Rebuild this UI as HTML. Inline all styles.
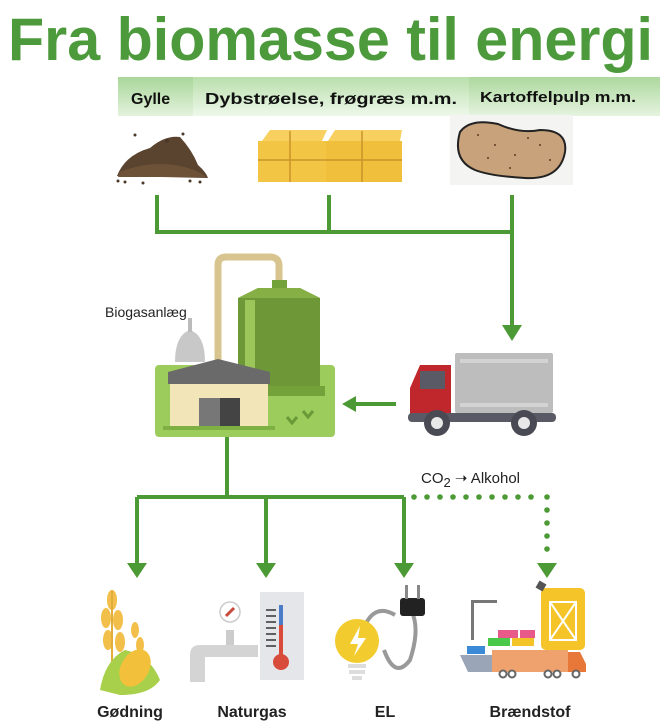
<!DOCTYPE html>
<html><head><meta charset="utf-8"><style>
html,body{margin:0;padding:0;background:#fff;}
svg{display:block;}
text{font-family:"Liberation Sans",sans-serif;}
</style></head><body>
<svg width="662" height="728" viewBox="0 0 662 728" xmlns="http://www.w3.org/2000/svg">
<defs>
<linearGradient id="bar" x1="0" y1="0" x2="0" y2="1"><stop offset="0" stop-color="#a9d69a"/><stop offset="1" stop-color="#e3f2dc"/></linearGradient>
<linearGradient id="bar2" x1="0" y1="0" x2="0" y2="1"><stop offset="0" stop-color="#b9dfac"/><stop offset="1" stop-color="#eef8ea"/></linearGradient>
</defs>
<text x="8" y="60" font-size="60" font-weight="bold" fill="#4c9a3c" textLength="645" lengthAdjust="spacingAndGlyphs">Fra biomasse til energi</text>
<rect x="118" y="77" width="542" height="39" fill="url(#bar2)"/>
<rect x="118" y="77" width="75" height="39" fill="url(#bar)"/>
<rect x="469" y="77" width="191" height="39" fill="url(#bar)" opacity="0.8"/>
<text x="131" y="104" font-size="16" font-weight="bold" fill="#111">Gylle</text>
<text x="205" y="104" font-size="16" font-weight="bold" fill="#111" textLength="252" lengthAdjust="spacingAndGlyphs">Dybstrøelse, frøgræs m.m.</text>
<text x="480" y="102" font-size="15" font-weight="bold" fill="#111" textLength="156" lengthAdjust="spacingAndGlyphs">Kartoffelpulp m.m.</text>
<!-- dirt -->
<path d="M117 176 Q125 155 150 148 Q165 135 180 137 Q192 150 198 165 Q206 172 208 178 Z" fill="#5a4430"/>
<path d="M120 172 Q150 160 180 166 Q198 170 206 177 L118 177 Z" fill="#6e5238"/>
<g fill="#4a3828"><circle cx="118" cy="181" r="1.5"/><circle cx="125" cy="182" r="1.5"/><circle cx="143" cy="183" r="1.5"/><circle cx="190" cy="181" r="1.5"/><circle cx="200" cy="182" r="1.5"/><circle cx="135" cy="135" r="1.5"/><circle cx="183" cy="134" r="1.5"/><circle cx="167" cy="141" r="2"/></g>
<!-- hay -->
<rect x="258" y="141" width="68" height="41" fill="#f3c544"/>
<rect x="326" y="141" width="76" height="41" fill="#f0bf3c"/>
<path d="M262 141 L270 130 H327 L322 141 Z M328 141 L335 130 H402 L400 141 Z" fill="#f7d060"/>
<line x1="258" y1="160" x2="402" y2="160" stroke="#c9932a" stroke-width="1.5"/>
<line x1="290" y1="131" x2="290" y2="182" stroke="#c9932a" stroke-width="1.5"/>
<line x1="362" y1="131" x2="362" y2="182" stroke="#c9932a" stroke-width="1.5"/>
<!-- potato -->
<rect x="450" y="115" width="123" height="70" fill="#f4f4f2"/>
<path d="M460 132 Q470 118 498 124 Q520 134 540 130 Q568 130 565 152 Q560 180 525 178 Q490 176 475 170 Q452 160 460 132 Z" fill="#c8a27a" stroke="#222" stroke-width="2"/>
<g fill="#5a3e22"><circle cx="478" cy="135" r="1"/><circle cx="495" cy="145" r="1"/><circle cx="515" cy="155" r="1"/><circle cx="540" cy="145" r="1"/><circle cx="510" cy="168" r="1"/><circle cx="488" cy="158" r="1"/><circle cx="550" cy="160" r="1"/><circle cx="528" cy="138" r="1"/></g>
<!-- connectors -->
<g stroke="#4c9a35" stroke-width="4" fill="none">
<path d="M157 195 V232 H512 M329 195 V232 M512 195 V326"/>
<path d="M396 404 H355"/>
<path d="M227 437 V497 M137 497 H404 M137 497 V565 M266 497 V565 M404 497 V565"/>
</g>
<g fill="#4c9a35">
<polygon points="502,325 522,325 512,341"/>
<polygon points="356,396 356,412 342,404"/>
<polygon points="127,563 147,563 137,578"/>
<polygon points="256,563 276,563 266,578"/>
<polygon points="394,563 414,563 404,578"/>
<polygon points="537,563 557,563 547,578"/>
<circle cx="414" cy="497" r="2.8"/><circle cx="427" cy="497" r="2.8"/><circle cx="440" cy="497" r="2.8"/><circle cx="453" cy="497" r="2.8"/><circle cx="466" cy="497" r="2.8"/><circle cx="479" cy="497" r="2.8"/><circle cx="492" cy="497" r="2.8"/><circle cx="505" cy="497" r="2.8"/><circle cx="518" cy="497" r="2.8"/><circle cx="531" cy="497" r="2.8"/><circle cx="547" cy="497" r="2.8"/>
<circle cx="547" cy="510" r="2.8"/><circle cx="547" cy="523" r="2.8"/><circle cx="547" cy="536" r="2.8"/><circle cx="547" cy="549" r="2.8"/>
</g>
<!-- biogas plant -->
<text x="105" y="317" font-size="14" fill="#222">Biogasanlæg</text>
<rect x="155" y="365" width="180" height="72" rx="4" fill="#9ccc5c"/>
<path d="M218 362 V265 Q218 257 226 257 H270 Q279 257 279 266 V285" fill="none" stroke="#d8c48e" stroke-width="7"/>
<rect x="272" y="280" width="15" height="10" fill="#74a23a"/>
<path d="M238 298 L258 288 H300 L320 298 V388 H238 Z" fill="#6e9838"/>
<path d="M238 298 L258 288 H300 L320 298 Z" fill="#86b045"/>
<rect x="245" y="300" width="10" height="88" fill="#9cc65a"/>
<rect x="235" y="386" width="90" height="10" fill="#74a23a"/>
<path d="M175 362 Q175 335 190 330 Q205 335 205 362 Z" fill="#c8c8c8"/>
<rect x="188" y="318" width="4" height="14" fill="#bbb"/>
<path d="M168 372 L218 359 L270 372 V384 H168 Z" fill="#6a6a6a"/>
<rect x="170" y="384" width="98" height="43" fill="#f2e6b8"/>
<rect x="199" y="398" width="21" height="29" fill="#777"/><rect x="220" y="398" width="20" height="29" fill="#444"/>
<rect x="163" y="426" width="112" height="4" fill="#7fb044"/>
<path d="M287 417 l5 6 l5 -6 M303 411 l5 6 l5 -6" stroke="#6a9a38" stroke-width="3" fill="none"/>
<!-- truck -->
<rect x="455" y="353" width="98" height="60" rx="2" fill="#bdbdbd"/>
<rect x="460" y="359" width="88" height="4" fill="#d3d3d3"/><rect x="460" y="403" width="88" height="4" fill="#d3d3d3"/>
<path d="M420 365 H451 V418 H410 V388 Z" fill="#c0272d"/>
<rect x="420" y="371" width="25" height="18" fill="#5a5a66"/>
<rect x="408" y="413" width="148" height="9" rx="4" fill="#5a5a66"/>
<circle cx="437" cy="423" r="13" fill="#4a4a55"/><circle cx="437" cy="423" r="6" fill="#e8e8e8"/>
<circle cx="524" cy="423" r="13" fill="#4a4a55"/><circle cx="524" cy="423" r="6" fill="#e8e8e8"/>
<text x="421" y="483" font-size="15" fill="#222">CO<tspan font-size="13" dy="4">2</tspan><tspan dy="-4"> ➝ Alkohol</tspan></text>
<!-- wheat -->
<g fill="#f2c04a">
<ellipse cx="112" cy="600" rx="5" ry="10"/><ellipse cx="106" cy="618" rx="5" ry="10"/><ellipse cx="118" cy="620" rx="5" ry="10"/><ellipse cx="108" cy="640" rx="5" ry="10"/><ellipse cx="120" cy="642" rx="5" ry="10"/>
<ellipse cx="135" cy="630" rx="4" ry="8"/><ellipse cx="140" cy="645" rx="4" ry="8"/>
</g>
<path d="M112 590 V690" stroke="#e2ad3a" stroke-width="2"/>
<path d="M100 690 Q105 660 125 650 Q150 655 160 680 Q150 695 120 695 Z" fill="#a8d04a"/>
<ellipse cx="135" cy="668" rx="14" ry="20" transform="rotate(30 135 668)" fill="#f2c03a"/>
<!-- naturgas -->
<rect x="260" y="592" width="44" height="88" fill="#e4e6ea"/>
<rect x="279" y="605" width="4" height="52" fill="#4a7cc8"/><circle cx="281" cy="662" r="8" fill="#d84a3a"/><rect x="279" y="625" width="4" height="35" fill="#d84a3a"/>
<g stroke="#333" stroke-width="1.5"><line x1="266" y1="610" x2="276" y2="610"/><line x1="266" y1="616" x2="276" y2="616"/><line x1="266" y1="622" x2="276" y2="622"/><line x1="266" y1="628" x2="276" y2="628"/><line x1="266" y1="634" x2="276" y2="634"/><line x1="266" y1="640" x2="276" y2="640"/><line x1="266" y1="646" x2="276" y2="646"/></g>
<circle cx="230" cy="612" r="10" fill="none" stroke="#ccc" stroke-width="1.5"/><path d="M226 616 L234 608" stroke="#c84a3a" stroke-width="3"/>
<path d="M190 682 V655 Q190 645 200 645 H258 V657 H205 V682 Z" fill="#d4d4d4"/>
<rect x="226" y="630" width="8" height="15" fill="#ccc"/>
<!-- EL -->
<path d="M384 650 Q395 680 410 660 Q420 630 412 612" stroke="#999" stroke-width="4" fill="none"/>
<path d="M360 640 Q370 600 395 615" stroke="#999" stroke-width="4" fill="none"/>
<rect x="400" y="598" width="25" height="18" rx="3" fill="#222"/><rect x="405" y="585" width="3" height="14" fill="#888"/><rect x="417" y="585" width="3" height="14" fill="#888"/>
<circle cx="357" cy="641" r="22" fill="#f2cc2e"/><path d="M360 626 L350 644 H358 L354 656 L366 638 H358 Z" fill="#fff"/>
<rect x="348" y="664" width="18" height="4" fill="#ddd"/><rect x="349" y="670" width="16" height="4" fill="#ddd"/><rect x="352" y="676" width="10" height="4" fill="#ddd"/>
<!-- Brændstof -->
<rect x="541" y="588" width="44" height="62" rx="5" fill="#f4c428"/>
<path d="M550 602 H576 V640 H550 Z M550 602 L576 640 M576 602 L550 640" stroke="#fff" stroke-width="2" fill="none"/>
<rect x="537" y="582" width="8" height="8" fill="#555" transform="rotate(30 541 586)"/>
<rect x="471" y="600" width="3" height="40" fill="#777"/><rect x="471" y="600" width="26" height="3" fill="#777"/>
<rect x="498" y="630" width="20" height="8" fill="#e85a8a"/><rect x="520" y="630" width="15" height="8" fill="#e85a8a"/>
<rect x="488" y="638" width="22" height="8" fill="#4ac84a"/><rect x="512" y="638" width="22" height="8" fill="#f2c428"/>
<rect x="467" y="646" width="18" height="8" fill="#3a8ad8"/>
<path d="M460 655 H540 L532 672 H468 Z" fill="#9aa6b8"/>
<rect x="492" y="650" width="76" height="22" fill="#f0a26e"/>
<path d="M568 652 H580 L586 664 V672 H568 Z" fill="#e8783a"/>
<g fill="#fff" stroke="#666" stroke-width="2"><circle cx="503" cy="674" r="3.5"/><circle cx="512" cy="674" r="3.5"/><circle cx="548" cy="674" r="3.5"/><circle cx="557" cy="674" r="3.5"/><circle cx="576" cy="674" r="3.5"/></g>
<g font-size="16" font-weight="bold" fill="#222" text-anchor="middle">
<text x="130" y="717">Gødning</text>
<text x="252" y="717">Naturgas</text>
<text x="385" y="717">EL</text>
<text x="530" y="717">Brændstof</text>
</g>
</svg>
</body></html>
